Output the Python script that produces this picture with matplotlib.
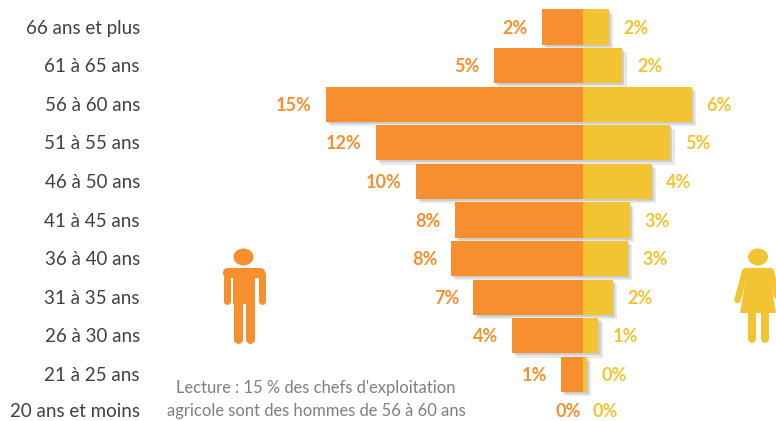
import matplotlib
matplotlib.use("Agg")
import matplotlib.pyplot as plt
import matplotlib.patheffects as pe
from matplotlib.patches import Ellipse, FancyBboxPatch, Polygon

plt.rcParams['font.family'] = ['Lato', 'DejaVu Sans']

ages = ['66 ans et plus', '61 à 65 ans', '56 à 60 ans', '51 à 55 ans', '46 à 50 ans',
        '41 à 45 ans', '36 à 40 ans', '31 à 35 ans', '26 à 30 ans', '21 à 25 ans',
        '20 ans et moins']
men = [2.4, 5.2, 15.0, 12.1, 9.75, 7.5, 7.7, 6.4, 4.15, 1.3, 0]
women = [1.5, 2.3, 6.35, 5.1, 4.0, 2.75, 2.6, 1.75, 0.9, 0.25, 0]
men_labels = ['2%', '5%', '15%', '12%', '10%', '8%', '8%', '7%', '4%', '1%', '0%']
women_labels = ['2%', '2%', '6%', '5%', '4%', '3%', '3%', '2%', '1%', '0%', '0%']

ORANGE = '#F78F2F'
YELLOW = '#F3C431'
GREY = '#7F7F7F'
W, H = 776, 421

fig = plt.figure(figsize=(W / 100, H / 100), dpi=100)
ax = fig.add_axes([0, 0, 1, 1])

# 17.13 px per percent, 38.6 px per row
ax.set_xlim(-583 / 17.13, (W - 583) / 17.13)
ax.set_ylim((H - 27) / 38.6, -27 / 38.6)
ax.axis('off')

ypos = list(range(len(ages)))
shadow = [pe.SimplePatchShadow(offset=(3, -3), shadow_rgbFace='#808080', alpha=0.18),
          pe.SimplePatchShadow(offset=(1.5, -1.5), shadow_rgbFace='#808080', alpha=0.25),
          pe.Normal()]
ax.barh(ypos, [-v for v in men], height=0.91, color=ORANGE, path_effects=shadow)
ax.barh(ypos, women, height=0.91, color=YELLOW, path_effects=shadow)

for y, m, f, ml, fl, age in zip(ypos, men, women, men_labels, women_labels, ages):
    # last row has no bars, its two labels sit close to the centre line
    pad_m = 1.5 if m == 0 else 10
    pad_f = 7 if f == 0 else 10.5
    # keep the bottom row clear of the lower edge
    dy = 1.2 if y == ypos[-1] else -0.8
    ax.annotate(ml, xy=(-m, y), xytext=(-pad_m, dy), textcoords='offset points',
                ha='right', va='center', color=ORANGE, fontsize=13, fontweight='bold')
    ax.annotate(fl, xy=(f, y), xytext=(pad_f, dy), textcoords='offset points',
                ha='left', va='center', color=YELLOW, fontsize=13, fontweight='bold')
    ax.annotate(age, xy=(0, y), xycoords=('axes fraction', 'data'), xytext=(140 * 0.72, dy),
                textcoords='offset points', ha='right', va='center', fontsize=13.5, color='#404040')

# overlay in pixels for the note and the icons
ov = fig.add_axes([0, 0, 1, 1], facecolor='none')
ov.set_xlim(0, W)
ov.set_ylim(H, 0)
ov.axis('off')

ov.text(316, 388, "Lecture : 15 % des chefs d'exploitation", ha='center', va='center', fontsize=11.9, color=GREY)
ov.text(316, 411, 'agricole sont des hommes de 56 à 60 ans', ha='center', va='center', fontsize=11.9, color=GREY)


def limb(x, y, width, color):
    ov.plot(x, y, color=color, lw=width * 0.72, solid_capstyle='round')


# man
ov.add_patch(Ellipse((243.5, 257), 20, 17, color=ORANGE, lw=0))
ov.add_patch(FancyBboxPatch((223, 268), 42, 10, boxstyle='round,pad=0,rounding_size=5', color=ORANGE, lw=0))
ov.add_patch(Polygon([(233, 272), (255, 272), (255, 304), (233, 304)], color=ORANGE, lw=0))
limb([226.5, 226.5], [274, 301], 7, ORANGE)
limb([261.5, 261.5], [274, 301], 7, ORANGE)
limb([237.5, 237.5], [300, 339], 9, ORANGE)
limb([250, 250], [300, 339], 9, ORANGE)

# woman
ov.add_patch(Ellipse((758, 257), 20, 17, color=YELLOW, lw=0))
ov.add_patch(FancyBboxPatch((742, 268), 32, 8, boxstyle='round,pad=0,rounding_size=4', color=YELLOW, lw=0))
ov.add_patch(Polygon([(747, 272), (769, 272), (776, 313), (740, 313)], color=YELLOW, lw=0))
limb([745, 737.5], [272, 300], 6.5, YELLOW)
limb([771, 778], [272, 300], 6.5, YELLOW)
limb([752, 752], [310, 339], 8, YELLOW)
limb([765, 765], [310, 339], 8, YELLOW)

fig.savefig('out.png', dpi=100)
